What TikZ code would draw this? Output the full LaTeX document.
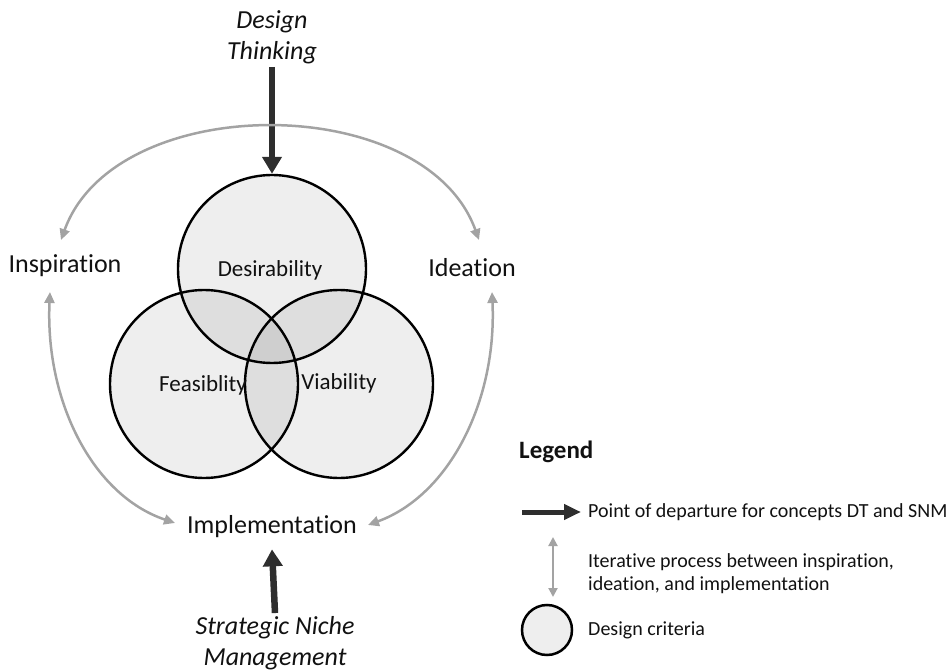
\documentclass[tikz,border=0pt]{standalone}
\usepackage{fontspec}
\setmainfont{Carlito}[Ligatures=NoCommon]
\usetikzlibrary{arrows.meta}
\definecolor{darkarrow}{HTML}{2E2E2E}
\definecolor{iterg}{HTML}{A3A3A3}
\definecolor{txt}{HTML}{111111}
\begin{document}
\begin{tikzpicture}[x=1pt,y=-1pt,
  crit/.style={circle, draw=black, line width=2.4pt, fill=black, fill opacity=0.065,
    draw opacity=1, text opacity=1, minimum size=188pt, inner sep=0pt,
    font=\fontsize{23}{27}\selectfont, text=txt},
  lbl/.style={font=\fontsize{26}{30}\selectfont, inner sep=0pt, text=txt},
  ital/.style={font=\fontsize{26}{31}\selectfont\itshape, align=center, inner sep=0pt, text=txt},
  dark/.style={draw=darkarrow, line width=6.5pt, -{Triangle[length=17pt,width=19pt]}},
  iter/.style={draw=iterg, line width=2.5pt,
    {Triangle[length=11pt,width=10pt]}-{Triangle[length=11pt,width=10pt]}},
  leg/.style={font=\fontsize{20}{23}\selectfont, anchor=west, inner sep=0pt, align=left, text=txt},
]
\useasboundingbox (0,0) rectangle (951,671);

% criteria circles
\node[crit] (des) at (272,269) {};
\node[crit] (fea) at (204,384) {};
\node[crit] (via) at (339,384) {};
\node[font=\fontsize{23}{27}\selectfont, text=txt, inner sep=0pt] (desl) at (270,270) {Desirability};
\node[font=\fontsize{23}{27}\selectfont, text=txt, inner sep=0pt] (feal) at (203,385) {Feasiblity};
\node[font=\fontsize{23}{27}\selectfont, text=txt, inner sep=0pt] (vial) at (339,383) {Viability};

% process labels
\node[lbl] (insp) at (65,266) {Inspiration};
\node[lbl] (idea) at (472,268) {Ideation};
\node[lbl] (impl) at (272,527) {Implementation};

% concepts
\node[ital] (dt) at (272,37) {Design\\Thinking};
\node[ital] (snm) at (275,643) {Strategic Niche\\Management};

\draw[dark] ([yshift=-3pt]dt.south) -- (des.north);
\draw[dark] ([yshift=3pt]snm.north) -- ([yshift=-11pt]impl.south);

% iterative arcs
\coordinate (inspT) at (61,240);
\coordinate (ideaT) at (479,240);
\coordinate (inspB) at (50,292);
\coordinate (ideaB) at (492,292);
\coordinate (implL) at (175,523);
\coordinate (implR) at (368,525);
\draw[iter] (inspT) .. controls (115,90) and (425,90) .. (ideaT);
\draw[iter] (inspB) .. controls (45,400) and (92,495) .. (implL);
\draw[iter] (ideaB) .. controls (497,400) and (450,495) .. (implR);

% legend
\node[font=\fontsize{25}{30}\selectfont\bfseries, anchor=west, inner sep=0pt, text=txt] (legend) at (519,452) {Legend};
\node[leg] (lt1) at (588,512) {Point of departure for concepts DT and SNM};
\coordinate (la1) at (522,512);
\draw[draw=darkarrow, line width=5pt, -{Triangle[length=17pt,width=15pt]}] (la1) -- ([xshift=-7pt]lt1.west);
\node[leg] (lt2) at (588,574) {Iterative process between inspiration,\\ideation, and implementation};
\coordinate (la2a) at (553,537);
\coordinate (la2b) at (553,597);
\draw[draw=iterg, line width=2pt, {Triangle[length=9pt,width=9pt]}-{Triangle[length=9pt,width=9pt]}] (la2a) -- (la2b);
\node[crit, minimum size=50pt, line width=2.5pt] (lc) at (547,630) {};
\node[leg] (lt3) at (588,630) {Design criteria};
\end{tikzpicture}
\end{document}
